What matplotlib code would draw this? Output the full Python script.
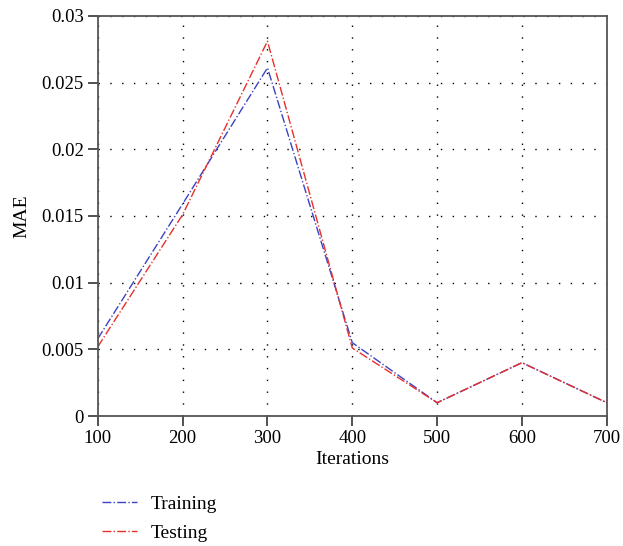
import matplotlib.pyplot as plt

plt.rcParams['font.family'] = ['Liberation Serif', 'DejaVu Serif']

iterations = [100, 200, 300, 400, 500, 600, 700]
training = [0.0058, 0.0159, 0.0261, 0.0055, 0.001, 0.004, 0.001]
testing = [0.0052, 0.0151, 0.0281, 0.0051, 0.001, 0.004, 0.001]

fig = plt.figure(figsize=(6.23, 5.46), dpi=100)
ax = fig.add_axes([0.157, 0.238, 0.817, 0.733])

ax.plot(iterations, training, color='#3b43c4', linestyle='-.', linewidth=1.0, label='Training')
ax.plot(iterations, testing, color='#e8302a', linestyle='-.', linewidth=1.0, label='Testing')

ax.set_xlim(100, 700)
ax.set_ylim(0, 0.03)
ax.set_xticks(iterations)
ax.set_yticks([0, 0.005, 0.01, 0.015, 0.02, 0.025, 0.03])
ax.set_yticklabels(['0', '0.005', '0.01', '0.015', '0.02', '0.025', '0.03'])
ax.grid(True, color='black', linestyle=(0, (1, 7.5)), linewidth=1.0)
ax.tick_params(labelsize=13.5, length=7, width=1.2, color='#333333', pad=3)
for s in ax.spines.values():
    s.set_color('#555555')
    s.set_linewidth(1.3)

ax.set_xlabel('Iterations', fontsize=14, labelpad=3)
ax.set_ylabel('MAE', fontsize=14, labelpad=8)

# legend sits under the axes, left aligned
fig.legend(loc='upper left', bbox_to_anchor=(0.135, 0.125), frameon=False,
           fontsize=14, handlelength=1.8, handletextpad=0.7, labelspacing=0.6)

fig.savefig('out.png', dpi=100)
